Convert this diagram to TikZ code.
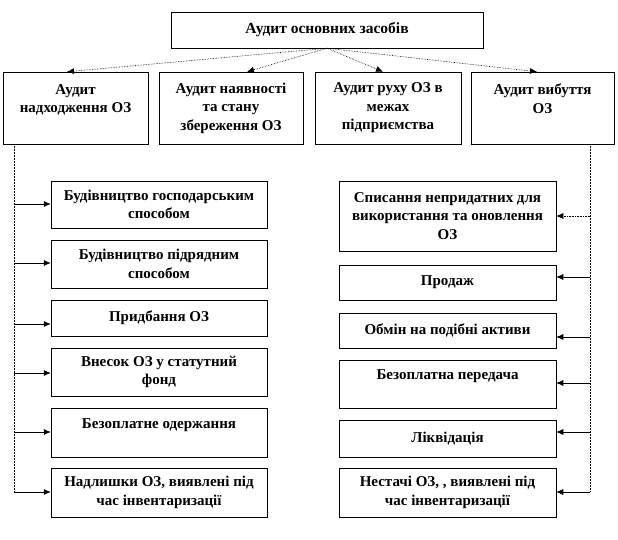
\documentclass[tikz,border=0pt]{standalone}
\usepackage{fontspec}
\setmainfont{Liberation Serif}
\usetikzlibrary{arrows.meta,positioning}
\newcommand{\comma}{,}

\begin{document}
\begin{tikzpicture}[x=1pt,y=-1pt,
  box/.style={draw,line width=0.5pt,align=center,inner sep=1pt,
    font=\fontsize{15}{18.5}\selectfont\bfseries},
  link/.style={-{Latex[length=7pt,width=6pt]},line width=0.6pt},
  trunk/.style={line width=0.5pt,densely dotted}]
  \useasboundingbox (0,0) rectangle (618,540);
  \node[box,minimum width=312pt,minimum height=36pt,font=\fontsize{15.5}{18.5}\selectfont\bfseries] (top) at (327,30) {Аудит основних засобів};
  % second level
  \foreach \t/\x/\w/\dx [count=\i] in {
    Аудит\\надходження ОЗ\\\mbox{}/75.5/145/-8.5,
    Аудит наявності\\та стану\\збереження ОЗ/231/144/16,
    Аудит руху  ОЗ в\\межах\\підприємства/388/146/-5,
    Аудит вибуття\\ОЗ\\\mbox{}/542.5/143/-5.5}
  {
    \node[box,minimum width=\w pt,minimum height=72pt] (a\i) at (\x,108) {\t};
    \draw[link,densely dotted] (top.south) -- ([xshift=\dx pt]a\i.north);
  }
  % left branch
  \foreach \t/\y/\h/\ay [count=\i] in {
    Будівництво господарським\\способом/204.5/47/204,
    Будівництво підрядним\\способом/264/48/263,
    Придбання ОЗ/318/36/324,
    Внесок ОЗ у статутний\\фонд/372/48/373,
    Безоплатне одержання\\\mbox{}/432.5/49/432,
    Надлишки  ОЗ\comma{} виявлені під\\час інвентаризації/492.5/49/492}
  {
    \node[box,minimum width=216pt,minimum height=\h pt] (l\i) at (159,\y) {\t};
    \coordinate (lt\i) at (14,\ay);
    \draw[link] (lt\i) -- (lt\i -| l\i.west);
  }
  \draw[trunk] (lt1 |- a1.south) -- (lt6);
  % right branch
  \foreach \t/\y/\h/\ay/\ls [count=\i] in {
    Списання непридатних для\\використання та оновлення\\ОЗ/216/70/216/densely dotted,
    Продаж/282.5/35/277/solid,
    Обмін на подібні  активи/330.5/35/337/solid,
    Безоплатна передача\\\mbox{}/384/48/383/solid,
    Ліквідація/438.5/37/432/solid,
    Нестачі  ОЗ\comma{} \comma{} виявлені під\\час інвентаризації/492.5/49/492/solid}
  {
    \node[box,minimum width=217pt,minimum height=\h pt] (r\i) at (447.5,\y) {\t};
    \coordinate (rt\i) at (590,\ay);
    \draw[link,\ls] (rt\i) -- (rt\i -| r\i.east);
  }
  \draw[trunk] (rt1 |- a4.south) -- (rt6);
\end{tikzpicture}
\end{document}
